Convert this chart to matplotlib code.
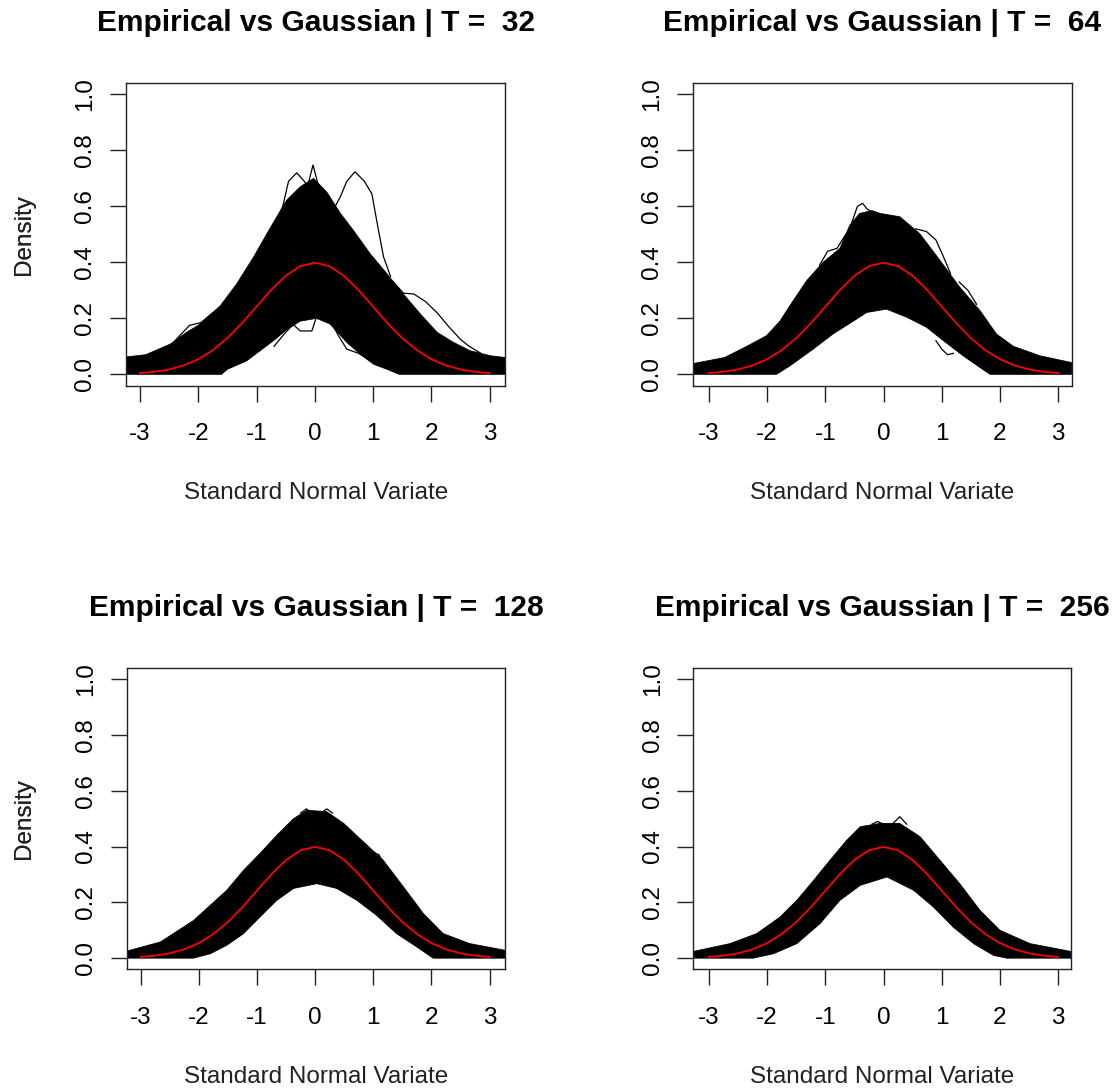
import matplotlib
matplotlib.use("Agg")
import matplotlib.pyplot as plt

plt.rcParams['font.family'] = ['Liberation Sans', 'DejaVu Sans']
plt.rcParams['axes.unicode_minus'] = False

sample_sizes = [32, 64, 128, 256]

# Gaussian reference density (red line)
gauss_x = [-3.0, -2.75, -2.5, -2.25, -2.0, -1.75, -1.5, -1.25, -1.0, -0.75, -0.5, -0.25, 0.0,
           0.25, 0.5, 0.75, 1.0, 1.25, 1.5, 1.75, 2.0, 2.25, 2.5, 2.75, 3.0]
gauss_y = [0.0044, 0.0091, 0.0175, 0.0317, 0.0540, 0.0863, 0.1295, 0.1826, 0.2420, 0.3011, 0.3521, 0.3867, 0.3989,
           0.3867, 0.3521, 0.3011, 0.2420, 0.1826, 0.1295, 0.0863, 0.0540, 0.0317, 0.0175, 0.0091, 0.0044]

# envelope of the empirical densities, T = 32
t32_upper_x = [-3.24, -2.9, -2.48, -2.2, -2.0, -1.62, -1.34, -1.05, -0.77, -0.48, -0.25, -0.02,
               0.21, 0.44, 0.66, 0.95, 1.24, 1.52, 1.81, 2.1, 2.38, 2.67, 3.02, 3.27]
t32_upper_y = [0.062, 0.07, 0.108, 0.15, 0.175, 0.245, 0.323, 0.419, 0.521, 0.623, 0.67, 0.70,
               0.65, 0.575, 0.515, 0.431, 0.359, 0.287, 0.216, 0.15, 0.114, 0.084, 0.066, 0.06]
t32_lower_x = [-3.24, -1.6, -1.5, -1.17, -0.94, -0.71, -0.48, -0.25, 0.03, 0.26, 0.55, 0.78,
               1.01, 1.24, 1.45, 3.27]
t32_lower_y = [0.0, 0.0, 0.018, 0.048, 0.084, 0.12, 0.16, 0.19, 0.20, 0.18, 0.114, 0.072,
               0.036, 0.018, 0.0, 0.0]
t32_stray = [
    ([0.35, 0.44, 0.55, 0.69, 0.85, 0.98, 1.08, 1.18, 1.3], [0.6, 0.635, 0.69, 0.724, 0.69, 0.645, 0.53, 0.42, 0.35]),
    ([-0.75, -0.55, -0.45, -0.31, -0.18, -0.08], [0.5, 0.6, 0.69, 0.72, 0.69, 0.66]),
    ([-0.15, -0.03, 0.08], [0.65, 0.748, 0.66]),
    ([1.35, 1.52, 1.7, 1.9, 2.1, 2.3, 2.5, 2.65, 2.85], [0.33, 0.29, 0.287, 0.26, 0.22, 0.17, 0.125, 0.1, 0.075]),
    ([-0.7, -0.5, -0.37, -0.25, -0.05, 0.02, 0.15, 0.3], [0.1, 0.15, 0.178, 0.155, 0.155, 0.2, 0.215, 0.19]),
    ([0.25, 0.4, 0.55, 0.75, 0.95, 1.15, 1.35], [0.2, 0.14, 0.09, 0.075, 0.05, 0.035, 0.018]),
    ([-2.4, -2.15, -1.95, -1.75], [0.12, 0.175, 0.185, 0.22]),
]

# T = 64
t64_upper_x = [-3.28, -2.73, -2.35, -2.01, -1.78, -1.61, -1.32, -1.04, -0.75, -0.58, -0.41, -0.2,
               -0.06, 0.28, 0.62, 0.97, 1.31, 1.66, 1.94, 2.23, 2.69, 3.23]
t64_upper_y = [0.038, 0.06, 0.10, 0.138, 0.19, 0.245, 0.335, 0.40, 0.45, 0.533, 0.575, 0.585,
               0.575, 0.563, 0.503, 0.407, 0.311, 0.227, 0.144, 0.10, 0.066, 0.042]
t64_lower_x = [-3.28, -1.84, -1.61, -1.21, -0.87, -0.52, -0.29, 0.05, 0.4, 0.74, 1.03, 1.37,
               1.66, 1.83, 3.23]
t64_lower_y = [0.0, 0.0, 0.03, 0.09, 0.144, 0.19, 0.221, 0.233, 0.204, 0.168, 0.12, 0.066,
               0.024, 0.0, 0.0]
t64_stray = [
    ([-0.55, -0.45, -0.36, -0.28, -0.2], [0.54, 0.6, 0.611, 0.59, 0.58]),
    ([0.55, 0.74, 0.9, 1.03, 1.15], [0.52, 0.51, 0.48, 0.42, 0.36]),
    ([-1.1, -0.96, -0.8, -0.65], [0.39, 0.44, 0.45, 0.5]),
    ([0.9, 1.0, 1.1, 1.2], [0.12, 0.09, 0.07, 0.075]),
    ([1.3, 1.45, 1.6], [0.33, 0.3, 0.25]),
]

# T = 128
t128_upper_x = [-3.24, -2.66, -2.09, -1.8, -1.52, -1.23, -0.95, -0.66, -0.37, -0.14, 0.2, 0.49,
                0.83, 1.17, 1.52, 1.86, 2.2, 2.66, 3.27]
t128_upper_y = [0.025, 0.058, 0.135, 0.19, 0.243, 0.315, 0.375, 0.44, 0.50, 0.53, 0.525, 0.483,
                0.417, 0.351, 0.255, 0.16, 0.088, 0.052, 0.028]
t128_lower_x = [-3.24, -2.09, -1.8, -1.52, -1.23, -0.95, -0.66, -0.37, 0.03, 0.37, 0.72, 1.06,
                1.4, 1.75, 2.03, 3.27]
t128_lower_y = [0.0, 0.0, 0.016, 0.046, 0.088, 0.147, 0.207, 0.25, 0.267, 0.25, 0.207, 0.153,
                0.088, 0.04, 0.0, 0.0]
t128_stray = [
    ([-0.25, -0.15, -0.05], [0.52, 0.535, 0.52]),
    ([0.1, 0.2, 0.3], [0.52, 0.535, 0.52]),
    ([1.0, 1.1, 1.2], [0.38, 0.37, 0.33]),
]

# T = 256
t256_upper_x = [-3.27, -2.64, -2.18, -1.78, -1.49, -1.2, -0.92, -0.63, -0.4, -0.06, 0.28, 0.63,
                0.97, 1.31, 1.66, 2.0, 2.52, 3.22]
t256_upper_y = [0.024, 0.052, 0.088, 0.147, 0.207, 0.279, 0.351, 0.423, 0.471, 0.483, 0.483, 0.435,
                0.351, 0.267, 0.171, 0.10, 0.052, 0.024]
t256_lower_x = [-3.27, -2.24, -1.89, -1.49, -1.09, -0.75, -0.4, 0.06, 0.52, 0.86, 1.2, 1.55,
                1.89, 2.12, 3.22]
t256_lower_y = [0.0, 0.0, 0.016, 0.052, 0.124, 0.207, 0.261, 0.291, 0.243, 0.183, 0.111, 0.052,
                0.01, 0.0, 0.0]
t256_stray = [
    ([0.15, 0.28, 0.4], [0.48, 0.507, 0.48]),
    ([-0.2, -0.1, 0.0], [0.48, 0.49, 0.48]),
]

panels = [
    (t32_upper_x, t32_upper_y, t32_lower_x, t32_lower_y, t32_stray),
    (t64_upper_x, t64_upper_y, t64_lower_x, t64_lower_y, t64_stray),
    (t128_upper_x, t128_upper_y, t128_lower_x, t128_lower_y, t128_stray),
    (t256_upper_x, t256_upper_y, t256_lower_x, t256_lower_y, t256_stray),
]

W, H = 1116, 1092
fig = plt.figure(figsize=(W / 100, H / 100), dpi=100)

# plot boxes in pixels: left, top, right, bottom
boxes = [(126, 83.3, 505.3, 385.5), (692.7, 83.3, 1071.5, 385.5),
         (126.7, 668, 505.3, 969.3), (693.3, 668, 1070.8, 969.3)]
xlims = [(-3.24, 3.27), (-3.28, 3.23), (-3.24, 3.27), (-3.27, 3.22)]

for i, (n, (ux, uy, lx, ly, stray)) in enumerate(zip(sample_sizes, panels)):
    l, t, r, b = boxes[i]
    ax = fig.add_axes([l / W, 1 - b / H, (r - l) / W, (b - t) / H])
    bw, bh = r - l, b - t

    # band of empirical densities
    ax.fill(list(ux) + list(lx[::-1]), list(uy) + list(ly[::-1]), color='black', lw=0.6)
    for sx, sy in stray:
        ax.plot(sx, sy, color='black', lw=0.9)
    ax.plot(gauss_x, gauss_y, color='#ff0000', lw=1.3)

    ax.set_xlim(*xlims[i])
    ax.set_ylim(-0.04, 1.04)
    ax.set_xticks([-3, -2, -1, 0, 1, 2, 3])
    ax.set_xticklabels(['-3', '-2', '-1', '0', '1', '2', '3'])
    ax.set_yticks([0.0, 0.2, 0.4, 0.6, 0.8, 1.0])
    ax.set_yticklabels(['0.0', '0.2', '0.4', '0.6', '0.8', '1.0'], rotation=90, va='center')
    ax.tick_params(axis='both', direction='out', length=11.3, width=1.0, labelsize=17.5, color='#222222')
    ax.tick_params(axis='x', pad=16)
    ax.tick_params(axis='y', pad=10)
    for s in ax.spines.values():
        s.set_linewidth(1.0)
        s.set_color('#222222')

    ax.set_xlabel('Standard Normal Variate', fontsize=17.5, color='#222222')
    ax.xaxis.set_label_coords(0.5, -107.5 / bh)
    ax.xaxis.label.set_va('center')
    ax.set_ylabel('Density', fontsize=17.5, color='#222222')
    ax.yaxis.set_label_coords(-(l - 24) / bw, 0.5)
    ax.yaxis.label.set_va('center')

    ax.text(0.5, 1 + 60 / bh, 'Empirical vs Gaussian | T =  %d' % n, transform=ax.transAxes,
            ha='center', va='center', fontsize=21.5, fontweight='bold')

fig.savefig('out.png', dpi=100)
